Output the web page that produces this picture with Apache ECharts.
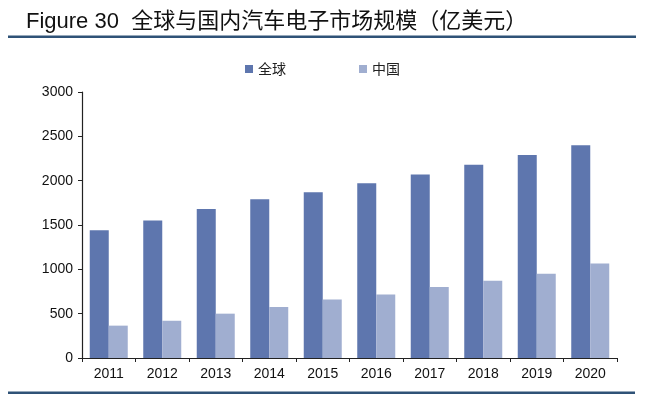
<!DOCTYPE html>
<html><head><meta charset="utf-8">
<script src="https://cdn.jsdelivr.net/npm/echarts@6/dist/echarts.min.js"></script>
<style>html,body{margin:0;padding:0;background:#fff}#c{width:656px;height:395px}</style>
</head><body><div id="c"></div>
<script>
const categories = ['2011','2012','2013','2014','2015','2016','2017','2018','2019','2020'];
const globalValues = [1440, 1550, 1680, 1790, 1870, 1970, 2070, 2180, 2290, 2400];
const chinaValues = [365, 420, 500, 575, 660, 715, 800, 870, 950, 1065];
const seriesNames = ['全球', '中国'];
const yTicks = [0, 500, 1000, 1500, 2000, 2500, 3000];

const chart = echarts.init(document.getElementById('c'), null, {renderer: 'canvas'});
chart.setOption({
  backgroundColor: '#fff',
  animation: false,
  title: {
    text: 'Figure 30  全球与国内汽车电子市场规模（亿美元）',
    left: 21, top: 6,
    textStyle: {fontFamily: 'Liberation Sans, Noto Sans CJK SC', fontSize: 22, fontWeight: 'normal', color: '#111'}
  },
  graphic: [
    {type: 'rect', shape: {x: 8, y: 35.5, width: 628, height: 2.5}, style: {fill: '#2f5277'}},
    {type: 'rect', shape: {x: 8, y: 391.5, width: 627, height: 2.5}, style: {fill: '#2f5277'}}
  ],
  legend: {
    data: seriesNames,
    top: 57, left: 240,
    itemWidth: 8, itemHeight: 8, itemGap: 73,
    icon: 'rect',
    textStyle: {fontFamily: 'Noto Sans CJK SC', fontSize: 14, color: '#222'}
  },
  grid: {left: 82, right: 39, top: 92, bottom: 37, containLabel: false},
  xAxis: {
    type: 'category', data: categories,
    axisLine: {lineStyle: {color: '#222', width: 1.2}},
    axisTick: {show: true, alignWithLabel: false, length: 4, lineStyle: {color: '#222'}},
    axisLabel: {fontFamily: 'Liberation Sans', fontSize: 14, color: '#111', margin: 9}
  },
  yAxis: {
    type: 'value', min: 0, max: 3000, interval: 500,
    axisLine: {show: true, lineStyle: {color: '#222', width: 1.2}},
    axisTick: {show: true, length: 4, lineStyle: {color: '#222'}},
    splitLine: {show: false},
    axisLabel: {fontFamily: 'Liberation Sans', fontSize: 14, color: '#111', margin: 9,
      formatter: v => yTicks.includes(v) ? String(v) : ''}
  },
  series: [
    {name: seriesNames[0], type: 'bar', data: globalValues, barWidth: 19, barGap: '0%',
     itemStyle: {color: '#5e76ae'}},
    {name: seriesNames[1], type: 'bar', data: chinaValues, barWidth: 19,
     itemStyle: {color: '#a0aed0'}}
  ]
});
</script></body></html>
